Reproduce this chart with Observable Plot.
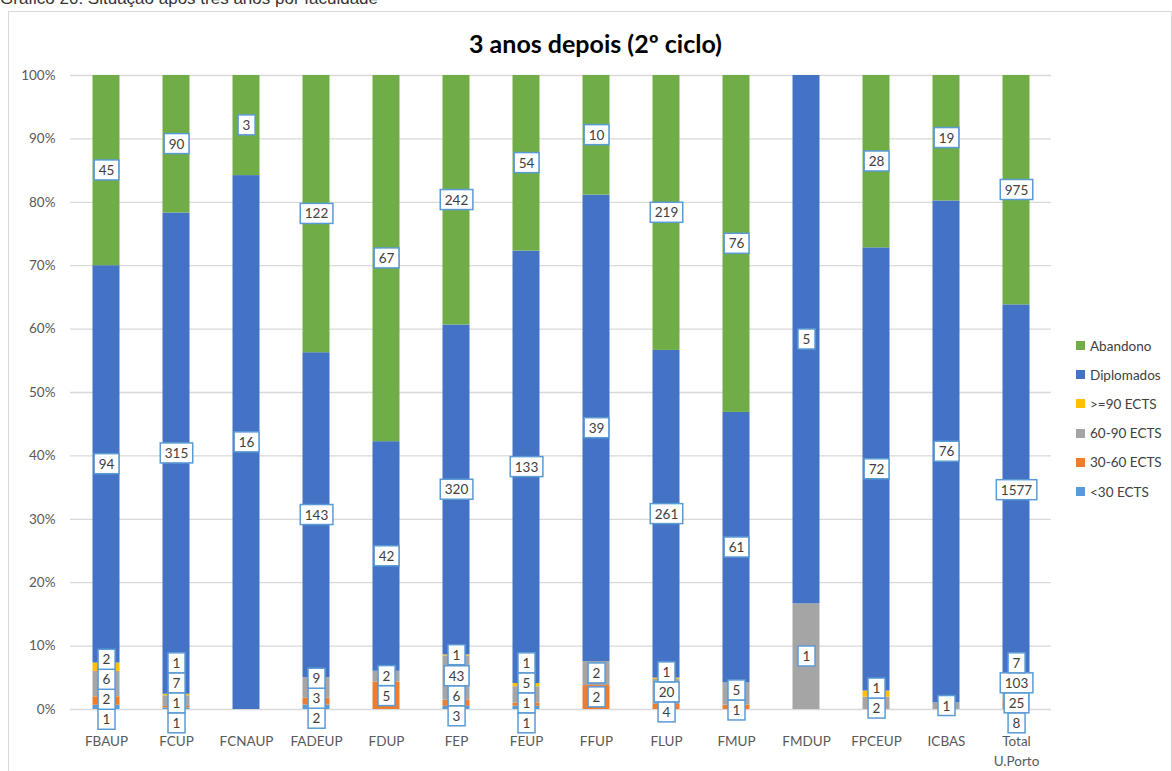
<!DOCTYPE html>
<html>
<head>
<meta charset="utf-8">
<script src="https://cdn.jsdelivr.net/npm/d3@7"></script>
<script src="https://cdn.jsdelivr.net/npm/@observablehq/plot@0.6"></script>
<style>
  html, body { margin: 0; padding: 0; background: #fff; overflow: hidden; }
  #page { position: relative; width: 1172px; height: 771px; overflow: hidden; }
  #caption { position: absolute; left: 0; top: -10px; font-family: "Liberation Sans", Arial, sans-serif; font-size: 17px; line-height: 17px; color: #333; white-space: nowrap; }
  #frame { position: absolute; left: 8px; top: 11px; width: 1162px; height: 800px; border: 1px solid #d9d9d9; }
  #title { position: absolute; left: 9.5px; width: 1172px; top: 28px; text-align: center; font-family: Lato, "Open Sans", sans-serif; font-weight: bold; font-size: 25px; line-height: 30px; color: #000; }
  #chart { position: absolute; left: 0; top: 60px; }
  #legend { position: absolute; left: 1076px; top: 331px; font-family: Lato, "Open Sans", sans-serif; font-size: 13.5px; color: #404040; }
  .li { height: 29.2px; display: flex; align-items: center; white-space: nowrap; }
  .sw { width: 9px; height: 9px; margin-right: 5px; }
</style>
</head>
<body>
<div id="page">
  <div id="caption">Gráfico 20: Situação após três anos por faculdade</div>
  <div id="frame"></div>
  <div id="title">3 anos depois (2º ciclo)</div>
  <div id="chart"></div>
  <div id="legend"></div>
</div>
<script>
// ---- Data ----
const categories = ["FBAUP","FCUP","FCNAUP","FADEUP","FDUP","FEP","FEUP","FFUP","FLUP","FMUP","FMDUP","FPCEUP","ICBAS","Total U.Porto"];
const seriesNames = ["<30 ECTS","30-60 ECTS","60-90 ECTS",">=90 ECTS","Diplomados","Abandono"];
const seriesColors = ["#5B9BD5","#ED7D31","#A5A5A5","#FFC000","#4472C4","#70AD47"];
const lt30       = [1, 1, 0, 2, 0, 3, 1, 0, 0, 0, 0, 0, 0, 8];
const ects30_60  = [2, 1, 0, 3, 5, 6, 1, 2, 4, 1, 0, 0, 0, 25];
const ects60_90  = [6, 7, 0, 9, 2, 43, 5, 2, 20, 5, 1, 2, 1, 103];
const ge90       = [2, 1, 0, 0, 0, 1, 1, 0, 1, 0, 0, 1, 0, 7];
const diplomados = [94, 315, 16, 143, 42, 320, 133, 39, 261, 61, 5, 72, 76, 1577];
const abandono   = [45, 90, 3, 122, 67, 242, 54, 10, 219, 76, 0, 28, 19, 975];
const yTicks = [0, 0.1, 0.2, 0.3, 0.4, 0.5, 0.6, 0.7, 0.8, 0.9, 1];

const seriesValues = [lt30, ects30_60, ects60_90, ge90, diplomados, abandono];

// ---- Layout ----
const W = 1172, H = 711, mt = 15, mb = 62, ml = 70, mr = 121;
const plotH = H - mt - mb;
const gap = 20 / plotH;      // label box spacing in y-domain units
const minY = -14 / plotH;    // lowest allowed label centre (just below the baseline)

// ---- Rows ----
const rows = [];
const labels = [];
function clusterCenter(items) {
  const half = (items.length - 1) / 2 * gap;
  let c = d3.mean(items, d => d.target);
  if (c - half < minY) c = minY + half;
  return c;
}
categories.forEach((cat, i) => {
  const total = d3.sum(seriesValues, arr => arr[i]);
  let cum = 0;
  const items = [];
  seriesNames.forEach((s, k) => {
    const v = seriesValues[k][i];
    rows.push({cat, series: s, share: v / total, value: v});
    if (v > 0) items.push({cat, series: s, k, value: v, target: (cum + v / 2) / total});
    cum += v;
  });
  const sorted = items.slice().sort((a, b) => a.target - b.target);
  const clusters = [];
  for (const it of sorted) {
    clusters.push({items: [it], c: clusterCenter([it])});
    while (clusters.length > 1) {
      const a = clusters[clusters.length - 2], b = clusters[clusters.length - 1];
      const aTop = a.c + (a.items.length - 1) / 2 * gap;
      const bBot = b.c - (b.items.length - 1) / 2 * gap;
      if (bBot - aTop < gap) {
        const merged = a.items.concat(b.items);
        clusters.splice(clusters.length - 2, 2, {items: merged, c: clusterCenter(merged)});
      } else break;
    }
  }
  for (const cl of clusters) {
    const n = cl.items.length;
    cl.items.forEach((it, j) => { it.ly = cl.c + (j - (n - 1) / 2) * gap; });
  }
  items.sort((a, b) => a.k - b.k).forEach(it => labels.push(it));
});

const chart = Plot.plot({
  width: W, height: H,
  marginTop: mt, marginBottom: mb, marginLeft: ml, marginRight: mr,
  style: {fontFamily: "Lato, 'Open Sans', sans-serif", background: "transparent"},
  x: {domain: categories, padding: 0, label: null},
  y: {domain: [0, 1], label: null},
  color: {domain: seriesNames, range: seriesColors},
  marks: [
    Plot.gridY(yTicks, {stroke: "#d9d9d9", strokeOpacity: 1, strokeWidth: 1.3}),
    Plot.barY(rows, {x: "cat", y: "share", fill: "series", insetLeft: 21.5, insetRight: 21.5}),
    Plot.axisY(yTicks, {tickSize: 0, tickPadding: 15, fontSize: 13.5, fill: "#595959", tickFormat: d => Math.round(d * 100) + "%", label: null}),
    Plot.axisX({tickSize: 0, tickPadding: 23, fontSize: 13.5, fill: "#595959", lineHeight: 1.45,
      tickFormat: d => d === "Total U.Porto" ? "Total\nU.Porto" : d, label: null}),
    Plot.text(labels, {x: "cat", y: "ly", text: d => String(d.value), fontSize: 13.5, fill: "#404040", className: "vlabels", ariaLabel: "value-labels"})
  ]
});
document.getElementById("chart").appendChild(chart);

// draw label boxes behind each label text
function findLabelGroup() {
  let g = chart.querySelector('g[aria-label="value-labels"]');
  if (g) return g;
  g = chart.querySelector('.vlabels');
  if (g) return g;
  const gs = Array.from(chart.querySelectorAll('g[aria-label="text"]'));
  return gs[gs.length - 1] || null;
}
const ns = "http://www.w3.org/2000/svg";
const lg = findLabelGroup();
if (lg) {
  const texts = Array.from(lg.querySelectorAll("text"));
  texts.forEach(t => {
    const bb = t.getBBox();
    const w = Math.max(bb.width + 9, 17);
    const r = document.createElementNS(ns, "rect");
    r.setAttribute("x", bb.x + bb.width / 2 - w / 2);
    r.setAttribute("y", bb.y + bb.height / 2 - 10);
    r.setAttribute("width", w);
    r.setAttribute("height", 20);
    r.setAttribute("fill", "#ffffff");
    r.setAttribute("stroke", "#5B9BD5");
    r.setAttribute("stroke-width", "1.5");
    const tr = t.getAttribute("transform");
    if (tr) r.setAttribute("transform", tr);
    t.parentNode.insertBefore(r, t);
  });
}

// legend
const legend = document.getElementById("legend");
seriesNames.slice().reverse().forEach((s, j) => {
  const k = seriesNames.length - 1 - j;
  const row = document.createElement("div");
  row.className = "li";
  const sw = document.createElement("span");
  sw.className = "sw";
  sw.style.background = seriesColors[k];
  const tx = document.createElement("span");
  tx.textContent = s;
  row.appendChild(sw);
  row.appendChild(tx);
  legend.appendChild(row);
});
</script>
</body>
</html>
